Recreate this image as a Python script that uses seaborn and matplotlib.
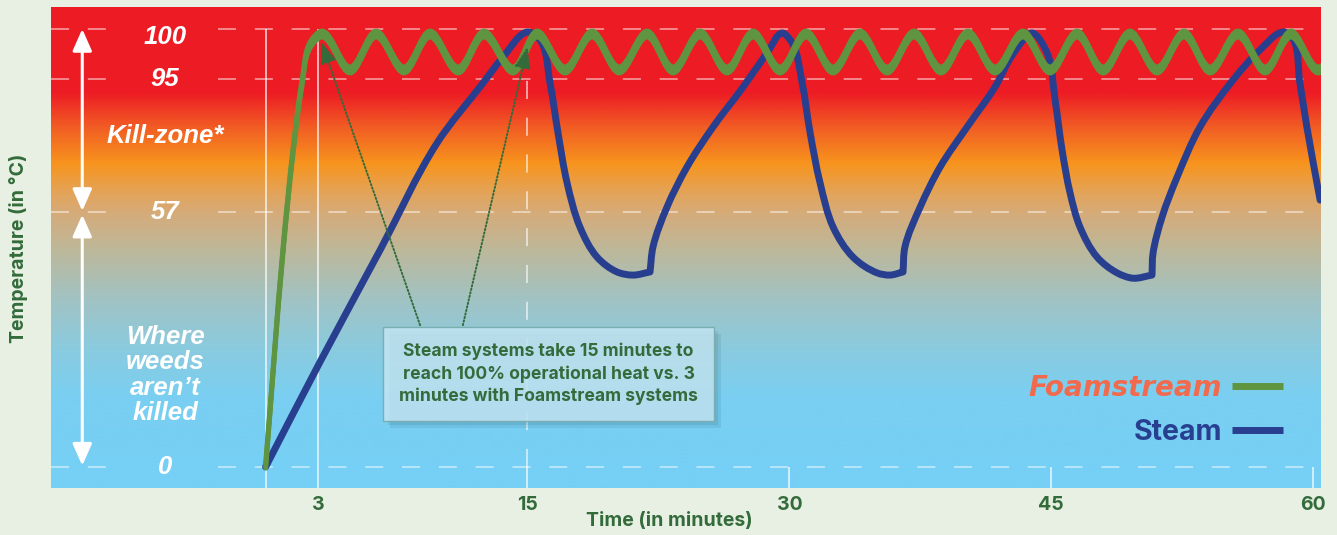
import numpy as np
import matplotlib
matplotlib.use("Agg")
import matplotlib.pyplot as plt
import seaborn as sns
import matplotlib.transforms as mtransforms
import matplotlib.patheffects as pe
from matplotlib.path import Path
from matplotlib.patches import PathPatch
from matplotlib.colors import LinearSegmentedColormap
from matplotlib.lines import Line2D

# ---------------- data ----------------
# Foamstream: fast climb, then oscillation between ~96 and ~100 degC
foam_t = [0.00, 1.00, 1.58, 2.09, 2.55,
          3.24, 4.84, 6.33, 7.93, 9.42, 11.03, 12.51, 14.18, 15.55, 17.15,
          18.70, 20.25, 21.85, 23.34, 24.89, 26.43, 27.92, 29.47, 30.96, 32.50,
          34.05, 35.60, 37.14, 38.69, 40.23, 41.78, 43.38, 44.93, 46.48, 47.97,
          49.51, 51.06, 52.60, 54.10, 55.70, 57.25, 58.73, 60.28, 61.80]
foam_temp = [0.0, 48.5, 74.7, 93.9, 98.4,
             99.5, 95.9, 99.5, 95.9, 99.5, 95.9, 99.5, 95.9, 99.5, 95.9,
             99.5, 95.9, 99.5, 95.9, 99.5, 95.9, 99.5, 95.9, 99.5, 95.9,
             99.5, 95.9, 99.5, 95.9, 99.5, 95.9, 99.5, 95.9, 99.5, 95.9,
             99.5, 95.9, 99.5, 95.9, 99.5, 95.9, 99.5, 95.9, 99.5]

# Steam: slow climb to 100 degC at 15 min, then heat/cool cycles
steam_t = [0.00, 3.12, 6.56, 9.82, 12.46, 13.60, 15.00,
           15.72, 16.29, 16.75, 17.27, 18.01, 18.99, 20.13, 21.05, 22.02,
           22.19, 22.99, 24.14, 25.63, 27.35, 28.72, 29.58,
           30.16, 30.73, 31.19, 31.76, 32.51, 33.65, 35.02, 35.77, 36.51,
           36.62, 37.49, 38.64, 40.18, 41.75, 42.85, 43.90,
           44.76, 45.22, 45.62, 46.08, 46.65, 47.63, 48.77, 49.69, 50.77,
           50.83, 51.35, 52.21, 53.52, 55.41, 56.95, 58.28,
           58.78, 59.24, 59.64, 60.40]
steam_temp = [0.0, 23.5, 48.5, 76.7, 93.9, 97.2, 99.7,
              98.9, 93.9, 79.6, 65.3, 53.6, 46.9, 43.6, 42.9, 43.6,
              49.2, 58.4, 69.9, 81.3, 92.7, 97.6, 99.6,
              98.6, 93.9, 79.6, 65.3, 53.6, 46.9, 43.4, 42.9, 43.6,
              49.2, 58.4, 69.9, 81.3, 92.5, 97.6, 99.6,
              97.6, 89.0, 74.7, 62.4, 53.6, 46.9, 43.4, 42.2, 42.9,
              47.8, 55.9, 67.0, 81.3, 94.7, 97.9, 99.7,
              99.2, 93.9, 81.3, 60.4]
# moments where the steam burner restarts (sharp turn in the curve)
steam_restart_t = [22.02, 36.51, 50.77]

series_names = ["Foamstream", "Steam"]
grid_temps = [100, 95, 57, 0]
temp_labels = ["100", "95", "57", "0"]
x_ticks = [3, 15, 30, 45, 60]
x_tick_labels = ["3", "15", "30", "45", "60"]
zone_labels = ["Kill-zone*", "Where\nweeds\naren\u2019t\nkilled"]
note_text = ("Steam systems take 15 minutes to\n"
             "reach 100% operational heat vs. 3\n"
             "minutes with Foamstream systems")

# ---------------- style ----------------
BG = "#e8f0e3"
DARK_GREEN = "#336b3b"
FOAM_GREEN = "#5f9540"
STEAM_BLUE = "#283f8f"
FOAM_ORANGE = "#f26a4d"
SANS = ["Inter", "DejaVu Sans"]
ITAL = ["Liberation Sans", "DejaVu Sans"]

sns.set_theme(style="white")
plt.rcParams["font.family"] = ["Liberation Sans", "DejaVu Sans"]
plt.rcParams["lines.scale_dashes"] = False

# piecewise temperature axis (stretched near the top)
T_KNOTS = np.array([-20.0, 0.0, 57.0, 95.0, 100.0, 120.0])
P_KNOTS = np.array([-89.5, 0.0, 255.0, 388.0, 438.0, 638.0])


def fwd(v):
    return np.interp(v, T_KNOTS, P_KNOTS)


def inv(v):
    return np.interp(v, P_KNOTS, T_KNOTS)


PX_PER_MIN = 17.46
XLIM = (-12.29, 60.45)
YLIM = (-4.69, 102.2)

fig = plt.figure(figsize=(13.37, 5.35), dpi=100, facecolor=BG)
ax = fig.add_axes([51 / 1337, 47 / 535, 1270 / 1337, 481 / 535])
ax.set_yscale("function", functions=(fwd, inv))

# vertical heat gradient behind the data
stops = [(0.000, "#76cff5"), (0.183, "#79cff2"), (0.287, "#8acbdf"),
         (0.391, "#a1c3c4"), (0.495, "#bdb89a"), (0.568, "#d4ac7c"),
         (0.609, "#e2a55e"), (0.676, "#f7941d"), (0.755, "#f15a24"),
         (0.823, "#ed1c24"), (1.000, "#ed1c24")]
heat = LinearSegmentedColormap.from_list("heat", stops)
ax.imshow(np.linspace(0, 1, 600).reshape(-1, 1), cmap=heat, origin="lower",
          extent=(0, 1, 0, 1), transform=ax.transAxes, aspect="auto",
          interpolation="bilinear", zorder=0)


def smooth_path(ts, temps, corners=()):
    """Cubic Bezier path through the points, built in screen-like units."""
    P = np.column_stack([np.asarray(ts, float) * PX_PER_MIN,
                         fwd(np.asarray(temps, float))])
    n = len(P)

    def unit(v):
        return v / np.hypot(v[0], v[1])

    tan = []
    for i in range(n):
        if i == 0:
            d = unit(P[1] - P[0])
        elif i == n - 1:
            d = unit(P[-1] - P[-2])
        else:
            d = unit(unit(P[i] - P[i - 1]) + unit(P[i + 1] - P[i]))
        tan.append(d)
    verts = [P[0]]
    codes = [Path.MOVETO]
    for i in range(n - 1):
        c = P[i + 1] - P[i]
        a = unit(c) if i in corners else tan[i]
        b = unit(c) if (i + 1) in corners else tan[i + 1]
        la = abs(np.dot(c, a)) / 3.0
        lb = abs(np.dot(c, b)) / 3.0
        verts += [P[i] + a * la, P[i + 1] - b * lb, P[i + 1]]
        codes += [Path.CURVE4] * 3
    V = np.array(verts)
    return Path(np.column_stack([V[:, 0] / PX_PER_MIN, inv(V[:, 1])]), codes)


# grid lines (broken where the temperature labels sit)
grid_kw = dict(colors="white", linewidths=1.1, alpha=0.6,
               linestyles=[(0, (13, 13.5))], zorder=1)
ax.hlines(grid_temps, XLIM[0], -8.6, **grid_kw)
ax.hlines(grid_temps, -2.7, XLIM[1], **grid_kw)
ax.vlines([0, 3], YLIM[0], 100, colors="white", linewidths=1.1, alpha=0.85, zorder=1)
ax.vlines([15], 0, 100, colors="white", linewidths=1.1, alpha=0.75,
          linestyles=[(0, (13, 13.5))], zorder=1)
ax.vlines(x_ticks[1:], YLIM[0], 0, colors="white", linewidths=1.1, alpha=0.85, zorder=1)

# steam curve
restart_idx = [steam_t.index(v) for v in steam_restart_t]
steam_path = smooth_path(steam_t, steam_temp, corners=set(restart_idx))
ax.add_patch(PathPatch(steam_path, facecolor="none", edgecolor=STEAM_BLUE,
                       lw=5, capstyle="round", joinstyle="round", zorder=3))

# foamstream curve, drawn as a flat-nib stroke
foam_path = smooth_path(foam_t, foam_temp, corners={0})
for dy in (-3.0, 0.0, 3.0):
    tr = mtransforms.offset_copy(ax.transData, fig=fig, x=0, y=dy, units="dots")
    ax.add_patch(PathPatch(foam_path, facecolor="none", edgecolor=FOAM_GREEN,
                           lw=3.5, capstyle="butt", joinstyle="round",
                           transform=tr, zorder=4))

# temperature labels inside the plot
label_x = -5.76
lab_kw = dict(ha="center", va="center", color="white", fontsize=18.5,
              fontweight="bold", fontstyle="italic", family=ITAL, zorder=5)
for val, txt in zip(grid_temps, temp_labels):
    dy = -6.0 if val == 100 else 0
    ax.annotate(txt, (label_x, val), xytext=(0, dy), textcoords="offset points",
                **lab_kw)
ax.text(label_x, 78.7, zone_labels[0], **lab_kw)
ax.text(label_x, 20.6, zone_labels[1], linespacing=1.08, **lab_kw)

# white range arrows
arrow_kw = dict(arrowstyle="<|-|>,head_length=0.95,head_width=0.42", color="white",
                lw=2.2, mutation_scale=14, shrinkA=0, shrinkB=0)
ax.annotate("", xy=(-10.5, 57.3), xytext=(-10.5, 100), arrowprops=arrow_kw, zorder=5)
ax.annotate("", xy=(-10.5, 0.3), xytext=(-10.5, 56.4), arrowprops=arrow_kw, zorder=5)

# callout with pointers
dotted_kw = dict(arrowstyle="-|>,head_length=1.0,head_width=0.38", color=DARK_GREEN,
                 lw=1.4, linestyle=(0, (1, 1.6)), mutation_scale=13,
                 shrinkA=0, shrinkB=0)
ax.annotate("", xy=(3.2, 98.7), xytext=(8.85, 31.7), arrowprops=dotted_kw, zorder=5)
ax.annotate("", xy=(15.0, 98.2), xytext=(11.3, 31.7), arrowprops=dotted_kw, zorder=5)
note = ax.text(16.21, 20.8, note_text, ha="center", va="center", color=DARK_GREEN,
               fontsize=12.6, fontweight="bold", family=SANS, linespacing=1.38,
               multialignment="center", zorder=6,
               bbox=dict(boxstyle="square,pad=0.9", fc=(0.78, 0.91, 0.96, 0.8),
                         ec="#7aaeb0", lw=1.0))
note.get_bbox_patch().set_path_effects([
    pe.SimplePatchShadow(offset=(5, -5), shadow_rgbFace="#1d4a5a", alpha=0.10),
    pe.SimplePatchShadow(offset=(3, -3), shadow_rgbFace="#1d4a5a", alpha=0.10),
    pe.Normal()])

# legend: label on the left, colour swatch on the right
handles = [Line2D([], [], color=FOAM_GREEN, lw=5, solid_capstyle="butt"),
           Line2D([], [], color=STEAM_BLUE, lw=5, solid_capstyle="butt")]
leg = ax.legend(handles, series_names, loc="center right",
                bbox_to_anchor=((1283 - 51) / 1270, (488 - 410) / 481),
                markerfirst=False, frameon=False, borderpad=0, borderaxespad=0,
                handlelength=1.8, handletextpad=0.35, labelspacing=0.6,
                prop=dict(family=SANS, weight="bold", size=20.5))
leg.set_zorder(7)
t_foam, t_steam = leg.get_texts()
t_foam.set_color(FOAM_ORANGE)
t_foam.set_fontfamily(["DejaVu Sans"])
t_foam.set_fontstyle("oblique")
t_foam.set_fontsize(20)
t_steam.set_color(STEAM_BLUE)

# axes
ax.set_xlim(*XLIM)
ax.set_ylim(*YLIM)
ax.set_xticks(x_ticks)
ax.set_xticklabels(x_tick_labels, fontsize=14, fontweight="bold", color=DARK_GREEN,
                   family=SANS)
ax.set_yticks([])
ax.tick_params(axis="x", length=0, pad=6)
for s in ax.spines.values():
    s.set_visible(False)
ax.grid(False)

fig.text(669 / 1337, 1 - 521 / 535, "Time (in minutes)", ha="center", va="center",
         fontsize=14, fontweight="bold", color=DARK_GREEN, family=SANS)
fig.text(19 / 1337, 1 - 248.5 / 535, "Temperature (in \u00b0C)", rotation=90,
         ha="center", va="center", fontsize=14, fontweight="bold", color=DARK_GREEN,
         family=SANS)

fig.savefig("out.png", dpi=100, facecolor=BG)
